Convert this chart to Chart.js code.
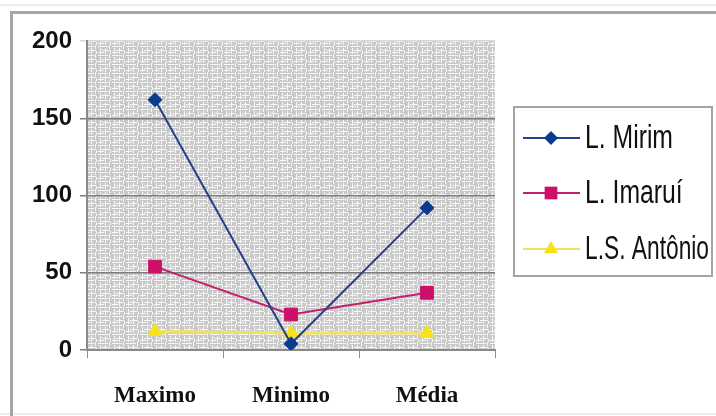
<!DOCTYPE html>
<html>
<head>
<meta charset="utf-8">
<script src="https://cdn.jsdelivr.net/npm/chart.js@4/dist/chart.umd.min.js"></script>
<style>
  html, body { margin: 0; padding: 0; background: #ffffff; }
  #wrap { position: relative; width: 716px; height: 416px; }
  canvas { display: block; }
</style>
</head>
<body>
<div id="wrap"><canvas id="c" width="716" height="416"></canvas></div>
<script>
// Categories and series
const categories = ['Maximo', 'Minimo', 'Média'];
const mirim = [162, 4, 92];
const imarui = [54, 23, 37];
const santoAntonio = [12, 11, 11];
const seriesNames = ['L. Mirim', 'L. Imaruí', 'L.S. Antônio'];
const yTicks = [0, 50, 100, 150, 200];

// Textured grey fill for the plot area
function makePlotPattern(ctx) {
  const t = document.createElement('canvas');
  t.width = 14; t.height = 9;
  const g = t.getContext('2d');
  g.fillStyle = '#c9c9c9';
  g.fillRect(0, 0, 14, 9);
  g.fillStyle = '#f7f7f7';
  g.fillRect(0, 1, 10, 1);
  g.fillRect(2, 3, 1, 6);
  g.fillRect(7, 3, 1, 6);
  g.fillRect(4, 5, 8, 1);
  g.fillRect(11, 0, 1, 4);
  g.fillRect(12, 6, 1, 3);
  g.fillRect(0, 7, 6, 1);
  return ctx.createPattern(t, 'repeat');
}

const frameAndBackground = {
  id: 'frameAndBackground',
  beforeDraw(chart) {
    const { ctx, chartArea: a } = chart;
    ctx.save();
    ctx.fillStyle = makePlotPattern(ctx);
    ctx.fillRect(a.left, a.top, a.right - a.left, a.bottom - a.top);
    // outer frame
    ctx.fillStyle = '#eeeeee';
    ctx.fillRect(0, 4, 716, 2);
    ctx.fillRect(0, 413, 716, 2);
    ctx.fillStyle = '#a6a6a6';
    ctx.fillRect(10, 11, 706, 3);
    ctx.fillRect(10, 11, 3, 405);
    ctx.restore();
  }
};

function drawMarker(ctx, style, x, y, r, color) {
  ctx.fillStyle = color;
  ctx.beginPath();
  if (style === 'rectRot') {
    ctx.moveTo(x, y - r); ctx.lineTo(x + r, y); ctx.lineTo(x, y + r); ctx.lineTo(x - r, y);
  } else if (style === 'rect') {
    const s = r * Math.SQRT1_2;
    ctx.rect(x - s, y - s, 2 * s, 2 * s);
  } else {
    ctx.moveTo(x, y - r); ctx.lineTo(x + r * 0.87, y + r * 0.5); ctx.lineTo(x - r * 0.87, y + r * 0.5);
  }
  ctx.closePath();
  ctx.fill();
}

// Boxed legend to the right of the plot
const boxedLegend = {
  id: 'boxedLegend',
  afterDraw(chart) {
    const ctx = chart.ctx;
    const box = { x: 514, y: 107, w: 198, h: 169 };
    ctx.save();
    ctx.fillStyle = '#ffffff';
    ctx.fillRect(box.x, box.y, box.w, box.h);
    ctx.strokeStyle = '#a4a4a4';
    ctx.lineWidth = 2;
    ctx.strokeRect(box.x, box.y, box.w, box.h);
    const rows = [138, 193, 249];
    chart.data.datasets.forEach((ds, i) => {
      const y = rows[i];
      ctx.strokeStyle = ds.borderColor;
      ctx.lineWidth = 2;
      ctx.beginPath();
      ctx.moveTo(523, y); ctx.lineTo(580, y);
      ctx.stroke();
      drawMarker(ctx, ds.pointStyle, 551, y, ds.pointRadius, ds.pointBackgroundColor);
      // condensed label text
      ctx.save();
      ctx.translate(585, y + 1);
      ctx.scale(0.75, 1);
      ctx.fillStyle = '#111111';
      ctx.font = "33px 'Liberation Sans', Arial, sans-serif";
      ctx.textBaseline = 'middle';
      ctx.textAlign = 'left';
      const w = ctx.measureText(ds.label).width;
      const maxW = 124 / 0.75;
      if (w > maxW) ctx.scale(maxW / w, 1);
      ctx.fillText(ds.label, 0, 0);
      ctx.restore();
    });
    ctx.restore();
  }
};

new Chart(document.getElementById('c'), {
  type: 'line',
  data: {
    labels: categories,
    datasets: [
      {
        label: seriesNames[0], data: mirim,
        borderColor: '#27408b', backgroundColor: '#0b3a8f',
        pointBackgroundColor: '#0b3a8f', pointBorderColor: '#0b3a8f',
        pointStyle: 'rectRot', pointRadius: 7, pointBorderWidth: 1, borderWidth: 2
      },
      {
        label: seriesNames[1], data: imarui,
        borderColor: '#c21f6e', backgroundColor: '#cc0f68',
        pointBackgroundColor: '#cc0f68', pointBorderColor: '#cc0f68',
        pointStyle: 'rect', pointRadius: 9, pointBorderWidth: 1, borderWidth: 2
      },
      {
        label: seriesNames[2], data: santoAntonio,
        borderColor: '#f0e25e', backgroundColor: '#f7e21a',
        pointBackgroundColor: '#f7e21a', pointBorderColor: '#f7e21a',
        pointStyle: 'triangle', pointRadius: 8, pointBorderWidth: 1, borderWidth: 3
      }
    ]
  },
  options: {
    responsive: false,
    animation: false,
    layout: { padding: { top: 41, right: 221, bottom: 0, left: 0 } },
    plugins: {
      legend: { display: false },
      tooltip: { enabled: false }
    },
    scales: {
      x: {
        offset: true,
        grid: { display: true, drawOnChartArea: false, drawTicks: true, tickLength: 8, color: '#8c8c8c', offset: true },
        border: { display: true, color: '#8a8a8a', width: 2 },
        ticks: {
          color: '#111111', padding: 24,
          font: { family: "'Liberation Serif', 'Times New Roman', serif", size: 23, weight: 'bold' }
        },
        afterFit(scale) { scale.height = 66; }
      },
      y: {
        min: 0, max: 200,
        afterBuildTicks(scale) { scale.ticks = yTicks.map(v => ({ value: v })); },
        grid: {
          color: ctx => (ctx.tick && ctx.tick.value === 200 ? '#d8d8d8' : '#7c7c7c'),
          lineWidth: 1.5, tickLength: 7, drawTicks: true
        },
        border: { display: true, color: '#8a8a8a', width: 2 },
        ticks: {
          color: '#111111', padding: 8,
          font: { family: "'Liberation Sans', Arial, sans-serif", size: 24, weight: 'bold' }
        },
        afterFit(scale) { scale.width = 87; }
      }
    }
  },
  plugins: [frameAndBackground, boxedLegend]
});
</script>
</body>
</html>
